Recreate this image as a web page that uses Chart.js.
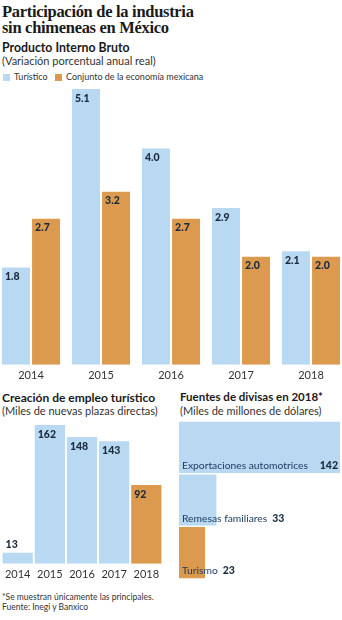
<!DOCTYPE html>
<html lang="es">
<head>
<meta charset="UTF-8"/>
<title>Participación de la industria sin chimeneas en México</title>
<script src="https://cdn.jsdelivr.net/npm/chart.js@4.4.7/dist/chart.umd.min.js"></script>
<style>
*{box-sizing:border-box;margin:0;padding:0}
html,body{width:342px;height:620px;overflow:hidden;background:#fff}
body{position:relative;font-family:Lato,'Open Sans',sans-serif;color:#1c2430}
.abs{position:absolute;white-space:nowrap}
.title{font-family:'Liberation Serif',serif;font-weight:700;font-size:16.5px;line-height:16px;letter-spacing:-0.3px;color:#1a1a1a;left:2px;top:4px}
.head{font-weight:700;font-size:12.3px;color:#1a1a1a}
.sub{font-size:11px;color:#333}
.legend{font-size:9px;color:#333;top:71px}
.sw{display:inline-block;width:7px;height:7px;vertical-align:-0.5px;margin-right:4px}
.note{font-size:8.5px;color:#333;line-height:10px}
canvas{position:absolute}
</style>
</head>
<body>
<div class="abs title">Participación de la industria<br>sin chimeneas en México</div>

<div class="abs head" style="left:2px;top:40px">Producto Interno Bruto</div>
<div class="abs sub" style="left:2px;top:54px">(Variación porcentual anual real)</div>
<div class="abs legend" style="left:3px"><span class="sw" style="background:#b9d8f1"></span>Turístico</div>
<div class="abs legend" style="left:55px"><span class="sw" style="background:#dc9a4e"></span>Conjunto de la economía mexicana</div>

<div class="abs head" style="left:2px;top:390px;font-size:12px">Creación de empleo turístico</div>
<div class="abs sub" style="left:2px;top:404px">(Miles de nuevas plazas directas)</div>

<div class="abs head" style="left:180px;top:390px;font-size:11.5px">Fuentes de divisas en 2018*</div>
<div class="abs sub" style="left:180px;top:404px">(Miles de millones de dólares)</div>

<div class="abs note" style="left:2px;top:592px">*Se muestran únicamente las principales.<br>Fuente: Inegi y Banxico</div>

<div style="position:absolute;left:-4px;top:89px;width:350px;height:297px"><canvas id="pib"></canvas></div>
<div style="position:absolute;left:1px;top:425px;width:162px;height:160px"><canvas id="empleo"></canvas></div>
<div style="position:absolute;left:179px;top:421px;width:161px;height:158px"><canvas id="divisas"></canvas></div>

<script>
const BLUE = '#b9d8f1';
const ORANGE = '#dc9a4e';
const INK = '#1b2a3c';

// PIB, variación porcentual anual
const years = ['2014', '2015', '2016', '2017', '2018'];
const pibTuristico = [1.8, 5.1, 4.0, 2.9, 2.1];
const pibEconomia = [2.7, 3.2, 2.7, 2.0, 2.0];

// Empleo turístico, miles de plazas
const empleoYears = ['2014', '2015', '2016', '2017', '2018'];
const empleo = [13, 162, 148, 143, 92];

// Divisas 2018, miles de millones de dólares
const fuentes = ['Exportaciones automotrices', 'Remesas familiares', 'Turismo'];
const divisas = [142, 33, 23];

const tickFont = { family: 'Lato', size: 11 };

// value written inside each vertical bar, top-left corner
// (above the bar when the bar is too short to hold it)
const insideLabels = (decimals, size) => ({
  id: 'insideLabels',
  afterDatasetsDraw(chart) {
    const ctx = chart.ctx;
    ctx.save();
    ctx.font = `900 ${size}px Lato`;
    ctx.fillStyle = INK;
    ctx.textBaseline = 'top';
    ctx.textAlign = 'left';
    chart.data.datasets.forEach((ds, i) => {
      chart.getDatasetMeta(i).data.forEach((bar, j) => {
        const left = bar.x - bar.width / 2;
        const short = bar.base - bar.y < size + 8;
        const y = short ? bar.y - size - 3 : bar.y + 4;
        ctx.fillText(ds.data[j].toFixed(decimals), left + 3, y);
      });
    });
    ctx.restore();
  }
});

const hiddenY = { display: false, beginAtZero: true };
const xCat = {
  grid: { display: false, drawTicks: false },
  border: { display: false },
  ticks: { font: tickFont, color: '#333', padding: 4 }
};

new Chart(document.getElementById('pib'), {
  type: 'bar',
  data: {
    labels: years,
    datasets: [
      { label: 'Turístico', data: pibTuristico, backgroundColor: BLUE },
      { label: 'Conjunto de la economía mexicana', data: pibEconomia, backgroundColor: ORANGE }
    ]
  },
  options: {
    responsive: true, maintainAspectRatio: false, animation: false,
    layout: { padding: 0 },
    datasets: { bar: { categoryPercentage: 0.86, barPercentage: 0.93 } },
    plugins: { legend: { display: false }, tooltip: { enabled: false } },
    scales: { x: xCat, y: { ...hiddenY, max: 5.1 } }
  },
  plugins: [insideLabels(1, 10.5)]
});

new Chart(document.getElementById('empleo'), {
  type: 'bar',
  data: {
    labels: empleoYears,
    datasets: [{ label: 'Empleo', data: empleo, backgroundColor: [BLUE, BLUE, BLUE, BLUE, ORANGE] }]
  },
  options: {
    responsive: true, maintainAspectRatio: false, animation: false,
    layout: { padding: 0 },
    datasets: { bar: { categoryPercentage: 1, barPercentage: 0.94 } },
    plugins: { legend: { display: false }, tooltip: { enabled: false } },
    scales: { x: xCat, y: { ...hiddenY, max: 162 } }
  },
  plugins: [insideLabels(0, 10.5)]
});

// horizontal bars: name at the bottom-left, value in bold
new Chart(document.getElementById('divisas'), {
  type: 'bar',
  data: {
    labels: fuentes,
    datasets: [{ label: 'Divisas', data: divisas, backgroundColor: [BLUE, BLUE, ORANGE] }]
  },
  options: {
    indexAxis: 'y',
    responsive: true, maintainAspectRatio: false, animation: false,
    layout: { padding: 0 },
    datasets: { bar: { categoryPercentage: 1, barPercentage: 0.97 } },
    plugins: { legend: { display: false }, tooltip: { enabled: false } },
    scales: { y: { display: false }, x: { display: false, beginAtZero: true, max: 142 } }
  },
  plugins: [{
    id: 'barNames',
    afterDatasetsDraw(chart) {
      const ctx = chart.ctx;
      const ds = chart.data.datasets[0];
      ctx.save();
      ctx.textBaseline = 'alphabetic';
      chart.getDatasetMeta(0).data.forEach((bar, j) => {
        const bottom = bar.y + bar.height / 2 - 4;
        const name = chart.data.labels[j];
        const val = String(ds.data[j]);
        ctx.font = '400 10.3px Lato';
        ctx.fillStyle = '#1e3c64';
        ctx.textAlign = 'left';
        ctx.fillText(name, bar.base + 3, bottom);
        const w = ctx.measureText(name).width;
        ctx.font = '900 10.5px Lato';
        ctx.fillStyle = INK;
        if (j === 0) {
          ctx.textAlign = 'right';
          ctx.fillText(val, bar.x - 2, bottom);
        } else {
          ctx.fillText(val, bar.base + 3 + w + 5, bottom);
        }
      });
      ctx.restore();
    }
  }]
});
</script>
</body>
</html>
